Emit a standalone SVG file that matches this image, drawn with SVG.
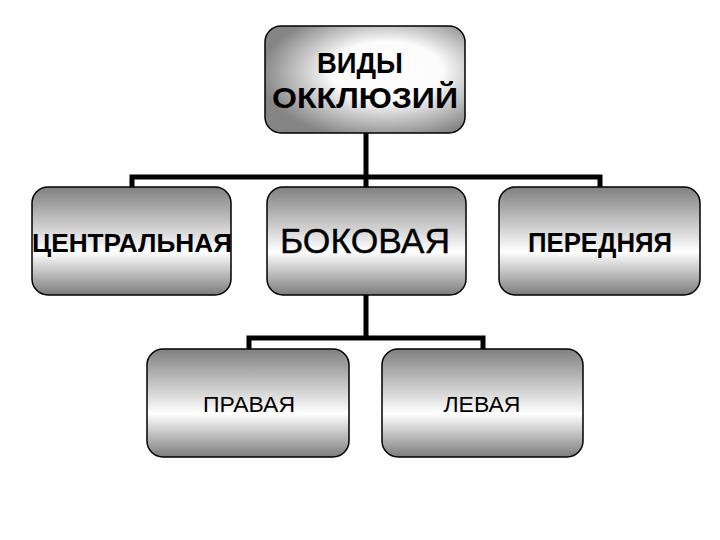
<svg xmlns="http://www.w3.org/2000/svg" width="720" height="540" viewBox="0 0 720 540">
<defs>
<linearGradient id="gv" x1="0" y1="0" x2="0" y2="1">
<stop offset="0" stop-color="#808080"/>
<stop offset="0.6" stop-color="#ffffff"/>
<stop offset="1" stop-color="#7c7c7c"/>
</linearGradient>
<radialGradient id="gd" cx="0.6" cy="0.45" r="0.62" fx="0.62" fy="0.4">
<stop offset="0" stop-color="#ffffff"/>
<stop offset="0.45" stop-color="#fbfbfb"/>
<stop offset="1" stop-color="#858585"/>
</radialGradient>
</defs>
<style>
.box{stroke:#000;stroke-width:1.5;}
.v{fill:url(#gv);}
.d{fill:url(#gd);}
.t{font-family:"Liberation Sans",Arial,sans-serif;fill:#000;text-anchor:middle;}
.b{font-weight:bold;}
.con{fill:none;stroke:#000;stroke-width:5;}
</style>
<rect width="720" height="540" fill="#fff"/>
<g id="connectors">
<path class="con" d="M366 133 V177 M132 187 V177 H600 V187 M366 177 V187"/>
<path class="con" d="M366 295 V338 M249 350 V338 H483 V350"/>
</g>
<g id="node-vidy">
<rect class="box d" x="265" y="26" width="200" height="107" rx="16"/>
<text class="t b" x="360" y="73" font-size="29" textLength="86" lengthAdjust="spacingAndGlyphs">ВИДЫ</text>
<text class="t b" x="365" y="108" font-size="30" textLength="186" lengthAdjust="spacingAndGlyphs">ОККЛЮЗИЙ</text>
</g>
<g id="node-central">
<rect class="box v" x="32" y="187" width="199" height="108" rx="16"/>
<text class="t b" x="132" y="252" font-size="25" textLength="200" lengthAdjust="spacingAndGlyphs">ЦЕНТРАЛЬНАЯ</text>
</g>
<g id="node-bokovaya">
<rect class="box v" x="267" y="187" width="199" height="108" rx="16"/>
<text class="t" x="365" y="253" font-size="35" textLength="170" lengthAdjust="spacingAndGlyphs" stroke="#000" stroke-width="0.4">БОКОВАЯ</text>
</g>
<g id="node-perednyaya">
<rect class="box v" x="499" y="187" width="201" height="108" rx="16"/>
<text class="t b" x="600" y="252" font-size="27" textLength="144" lengthAdjust="spacingAndGlyphs">ПЕРЕДНЯЯ</text>
</g>
<g id="node-pravaya">
<rect class="box v" x="147" y="349" width="202" height="108" rx="16"/>
<text class="t" x="249" y="412" font-size="22" textLength="92" lengthAdjust="spacingAndGlyphs">ПРАВАЯ</text>
</g>
<g id="node-levaya">
<rect class="box v" x="382" y="349" width="201" height="108" rx="16"/>
<text class="t" x="482" y="412" font-size="22" textLength="77" lengthAdjust="spacingAndGlyphs">ЛЕВАЯ</text>
</g>
</svg>
